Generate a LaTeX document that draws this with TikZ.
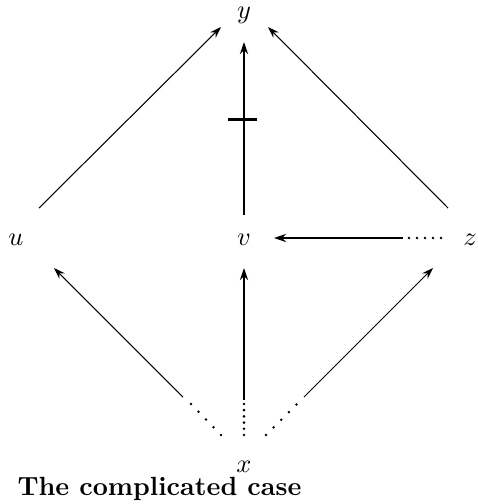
\documentclass[tikz,border=0pt]{standalone}
\usetikzlibrary{arrows.meta}
\begin{document}
\begin{tikzpicture}[x=0.38pt, y=-0.38pt,
  thinarr/.style={line width=0.4pt, -{Stealth[length=4.3pt, width=2.9pt]}},
  thickarr/.style={line width=1pt, -{Stealth[length=4.6pt, width=3.1pt]}},
  dotrow/.style={line width=1.1pt, line cap=round, dash pattern=on 0pt off #1},
  dotrow/.default=3.04pt]
\useasboundingbox (0,0) rectangle (478,504);
\node (y) at (244,15) {$y$};
\node (u) at (16,240) {$u$};
\node (v) at (244,240) {$v$};
\node (z) at (470,240) {$z$};
\node (x) at (244,467) {$x$};
\node[anchor=base west, inner sep=0pt] (title) at (17,495) {\textbf{The complicated case}};
% upper arrows into y
\draw[thinarr] ([shift={(23,-32)}]u.center) -- ([shift={(-23,12)}]y.center);
\draw[thinarr] ([shift={(-22,-32)}]z.center) -- ([shift={(24,12)}]y.center);
\draw[thickarr] ([shift={(0,-25)}]v.center) -- ([shift={(0,27)}]y.center);
\path (v) -- (y) coordinate[pos=0.547] (vytick);
\draw[line width=1pt] ([shift={(-16,0)}]vytick) -- ([shift={(13,0)}]vytick);
% z to v, dotted start
\draw[dotrow] ([shift={(-29,-2)}]z.center) -- ([shift={(-62,-2)}]z.center);
\draw[thickarr] ([shift={(-67,-2)}]z.center) -- ([shift={(30,-2)}]v.center);
% arrows out of x, dotted start
\draw[dotrow=4.1pt] ([shift={(-23,-32)}]x.center) -- ([shift={(-53.5,-63.5)}]x.center);
\draw[thinarr] ([shift={(-61,-70)}]x.center) -- ([shift={(38,28)}]u.center);
\draw[dotrow=2.36pt] ([shift={(0,-32)}]x.center) -- ([shift={(0,-63.5)}]x.center);
\draw[thickarr] ([shift={(0,-67)}]x.center) -- ([shift={(0,28)}]v.center);
\draw[dotrow=4.1pt] ([shift={(22,-32)}]x.center) -- ([shift={(53.5,-63.5)}]x.center);
\draw[thinarr] ([shift={(60,-70)}]x.center) -- ([shift={(-37,28)}]z.center);
\end{tikzpicture}
\end{document}
